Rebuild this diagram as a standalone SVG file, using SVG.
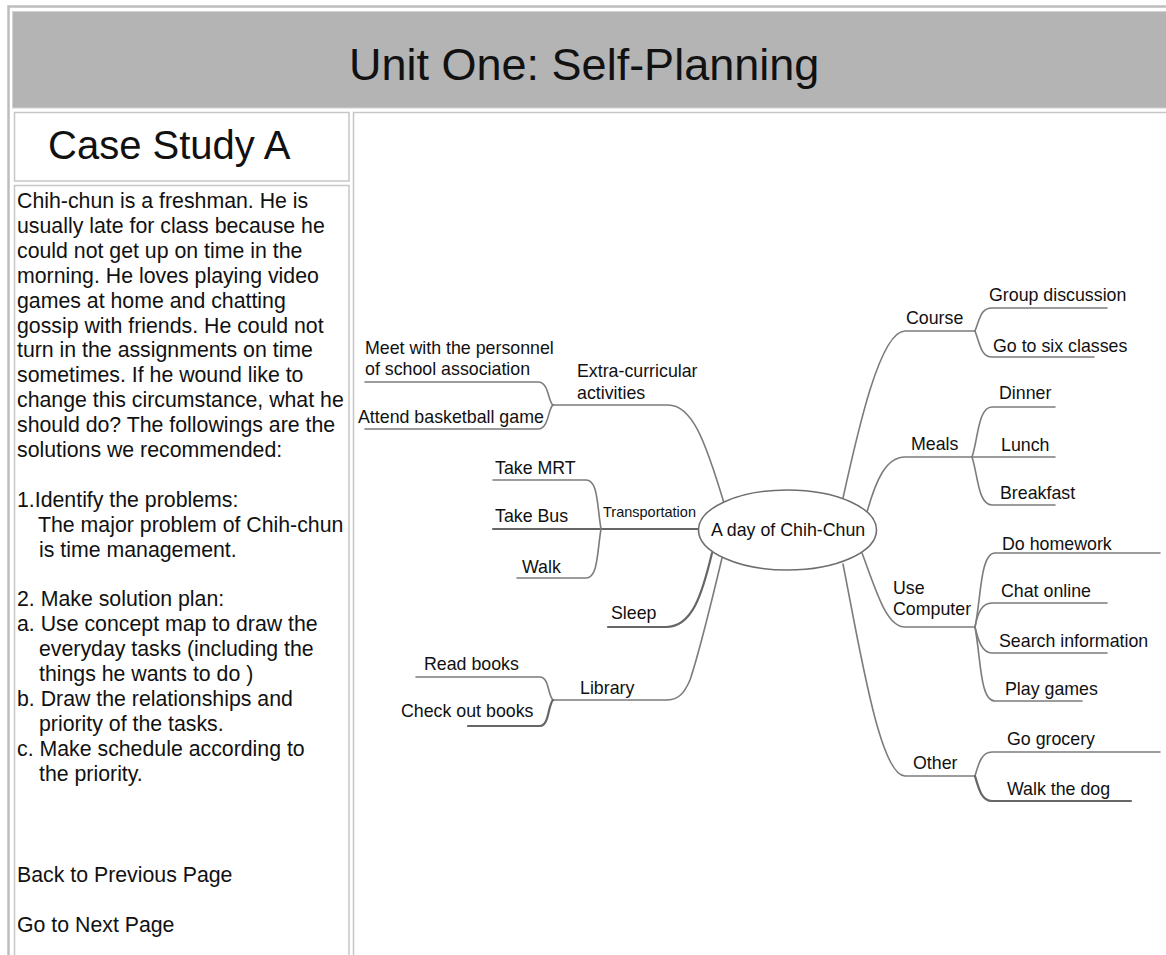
<svg xmlns="http://www.w3.org/2000/svg" width="1166" height="955" viewBox="0 0 1166 955">
  <style>
    .frame { fill: none; stroke: #bdbdbd; stroke-width: 2.5; }
    .cell { fill: #ffffff; stroke: #c6c6c6; stroke-width: 1.5; }
    .head { fill: #b4b4b4; stroke: #d2d2d2; stroke-width: 1; }
    .title { font-family: "Liberation Sans", Arial, sans-serif; fill: #111; }
    .body { font-family: "Liberation Sans", Arial, sans-serif; font-size: 21.3px; fill: #111; }
    .lbl { font-family: "Liberation Sans", Arial, sans-serif; font-size: 17.8px; fill: #111; }
    .small { font-family: "Liberation Sans", Arial, sans-serif; font-size: 14.5px; fill: #111; }
    .link { fill: none; stroke: #7c7c7c; stroke-width: 1.6; stroke-linecap: round; }
    .link.dark { stroke: #666; stroke-width: 2.2; }
    .hub { fill: #ffffff; stroke: #6e6e6e; stroke-width: 1.6; }
  </style>

  <rect width="1166" height="955" fill="#ffffff"/>

  <!-- page table -->
  <g id="page-frame">
    <rect class="frame" x="8.5" y="6.5" width="1170" height="960"/>
    <rect class="head" x="12.5" y="11.5" width="1160" height="96.5"/>
    <rect class="cell" x="14.5" y="112.5" width="334.5" height="68.5"/>
    <rect class="cell" x="14.5" y="185.5" width="334.5" height="780"/>
    <rect class="cell" x="353.5" y="112.5" width="820" height="850"/>
  </g>

  <g id="header">
    <text class="title" x="349" y="80" font-size="45">Unit One: Self-Planning</text>
  </g>

  <g id="case-title">
    <text class="title" x="48" y="159" font-size="40">Case Study A</text>
  </g>

  <!-- case description -->
  <g id="case-text" class="body">
    <text x="17" y="208">Chih-chun is a freshman. He is</text>
    <text x="17" y="232.9">usually late for class because he</text>
    <text x="17" y="257.8">could not get up on time in the</text>
    <text x="17" y="282.7">morning. He loves playing video</text>
    <text x="17" y="307.6">games at home and chatting</text>
    <text x="17" y="332.5">gossip with friends. He could not</text>
    <text x="17" y="357.4">turn in the assignments on time</text>
    <text x="17" y="382.3">sometimes. If he wound like to</text>
    <text x="17" y="407.2">change this circumstance, what he</text>
    <text x="17" y="432.1">should do? The followings are the</text>
    <text x="17" y="457">solutions we recommended:</text>
    <text x="17" y="506.8">1.Identify the problems:</text>
    <text x="38" y="531.7">The major problem of Chih-chun</text>
    <text x="39" y="556.6">is time management.</text>
    <text x="17" y="606.4">2. Make solution plan:</text>
    <text x="17" y="631.3">a. Use concept map to draw the</text>
    <text x="39" y="656.2">everyday tasks (including the</text>
    <text x="39" y="681.1">things he wants to do )</text>
    <text x="17" y="706">b. Draw the relationships and</text>
    <text x="39" y="730.9">priority of the tasks.</text>
    <text x="17" y="755.8">c. Make schedule according to</text>
    <text x="39" y="780.7">the priority.</text>
  </g>

  <g id="nav-links" class="body">
    <text x="17" y="882">Back to Previous Page</text>
    <text x="17" y="932">Go to Next Page</text>
  </g>

  <!-- mind map connectors -->
  <g id="connectors">
    <!-- extra-curricular -->
    <path class="link" d="M 724 503 C 705 440 692 405 668 405 H 553"/>
    <path class="link" d="M 365 382 H 538 C 549 382 548 402 553 405"/>
    <path class="link" d="M 365 429 H 538 C 549 429 548 408 553 405"/>
    <!-- transportation -->
    <path class="link dark" d="M 493 529 H 698"/>
    <path class="link" d="M 493 480 H 586 C 598 480 597 505 601 529"/>
    <path class="link" d="M 517 578 H 586 C 598 578 597 553 601 529"/>
    <!-- sleep -->
    <path class="link dark" d="M 608 627 H 666 C 692 627 702 595 712 553"/>
    <!-- library -->
    <path class="link" d="M 722 558 C 712 600 700 650 690 680 C 684 694 678 700 666 700 H 553"/>
    <path class="link" d="M 416 677 H 540 C 549 677 548 696 553 700"/>
    <path class="link dark" d="M 468 726 H 540 C 549 726 548 705 553 700"/>
    <!-- course -->
    <path class="link" d="M 843 498 C 858 430 880 331 905 331 H 975"/>
    <path class="link" d="M 975 331 C 980 318 981 308 992 308 H 1107"/>
    <path class="link" d="M 975 331 C 980 344 981 357 992 357 H 1094"/>
    <!-- meals -->
    <path class="link" d="M 867 512 C 876 480 886 457 905 457 H 1055"/>
    <path class="link" d="M 972 457 C 978 440 978 407 992 407 H 1055"/>
    <path class="link" d="M 972 457 C 978 475 978 505 992 505 H 1055"/>
    <!-- use computer -->
    <path class="link" d="M 862 553 C 876 590 886 627 905 627 H 975"/>
    <path class="link" d="M 975 627 C 981 600 980 553 995 553 H 1160"/>
    <path class="link" d="M 975 627 C 978 612 982 603 992 603 H 1107"/>
    <path class="link" d="M 975 627 C 978 640 982 653 992 653 H 1107"/>
    <path class="link" d="M 975 627 C 981 660 980 701 995 701 H 1082"/>
    <!-- other -->
    <path class="link" d="M 843 564 C 860 650 880 776 905 776 H 975"/>
    <path class="link" d="M 975 776 C 979 762 982 752 992 752 H 1160"/>
    <path class="link dark" d="M 975 776 C 979 790 982 801 992 801 H 1131"/>
  </g>

  <!-- mind map nodes -->
  <g id="node-center">
    <ellipse class="hub" cx="787.5" cy="530" rx="89" ry="40"/>
    <text class="lbl" x="711" y="536" font-size="18">A day of Chih-Chun</text>
  </g>

  <g id="node-extra" class="lbl">
    <text x="577" y="377">Extra-curricular</text>
    <text x="577" y="399">activities</text>
  </g>
  <g id="node-meet" class="lbl">
    <text x="365" y="354">Meet with the personnel</text>
    <text x="365" y="375">of school association</text>
  </g>
  <g id="node-basketball" class="lbl">
    <text x="358" y="423">Attend basketball game</text>
  </g>

  <g id="node-transportation" class="small">
    <text x="603" y="517">Transportation</text>
  </g>
  <g id="node-mrt" class="lbl"><text x="495" y="474">Take MRT</text></g>
  <g id="node-bus" class="lbl"><text x="495" y="522">Take Bus</text></g>
  <g id="node-walk" class="lbl"><text x="522" y="573">Walk</text></g>

  <g id="node-sleep" class="lbl"><text x="611" y="619">Sleep</text></g>

  <g id="node-library" class="lbl"><text x="580" y="694">Library</text></g>
  <g id="node-read" class="lbl"><text x="424" y="670">Read books</text></g>
  <g id="node-checkout" class="lbl"><text x="401" y="717">Check out books</text></g>

  <g id="node-course" class="lbl"><text x="906" y="324">Course</text></g>
  <g id="node-group" class="lbl"><text x="989" y="301">Group discussion</text></g>
  <g id="node-classes" class="lbl"><text x="993" y="352">Go to six classes</text></g>

  <g id="node-meals" class="lbl"><text x="911" y="450">Meals</text></g>
  <g id="node-dinner" class="lbl"><text x="999" y="399">Dinner</text></g>
  <g id="node-lunch" class="lbl"><text x="1001" y="451">Lunch</text></g>
  <g id="node-breakfast" class="lbl"><text x="1000" y="499">Breakfast</text></g>

  <g id="node-computer" class="lbl">
    <text x="893" y="594">Use</text>
    <text x="893" y="615">Computer</text>
  </g>
  <g id="node-homework" class="lbl"><text x="1002" y="550">Do homework</text></g>
  <g id="node-chat" class="lbl"><text x="1001" y="597">Chat online</text></g>
  <g id="node-search" class="lbl"><text x="999" y="647">Search information</text></g>
  <g id="node-games" class="lbl"><text x="1005" y="695">Play games</text></g>

  <g id="node-other" class="lbl"><text x="913" y="769">Other</text></g>
  <g id="node-grocery" class="lbl"><text x="1007" y="745">Go grocery</text></g>
  <g id="node-dog" class="lbl"><text x="1007" y="795">Walk the dog</text></g>
</svg>
